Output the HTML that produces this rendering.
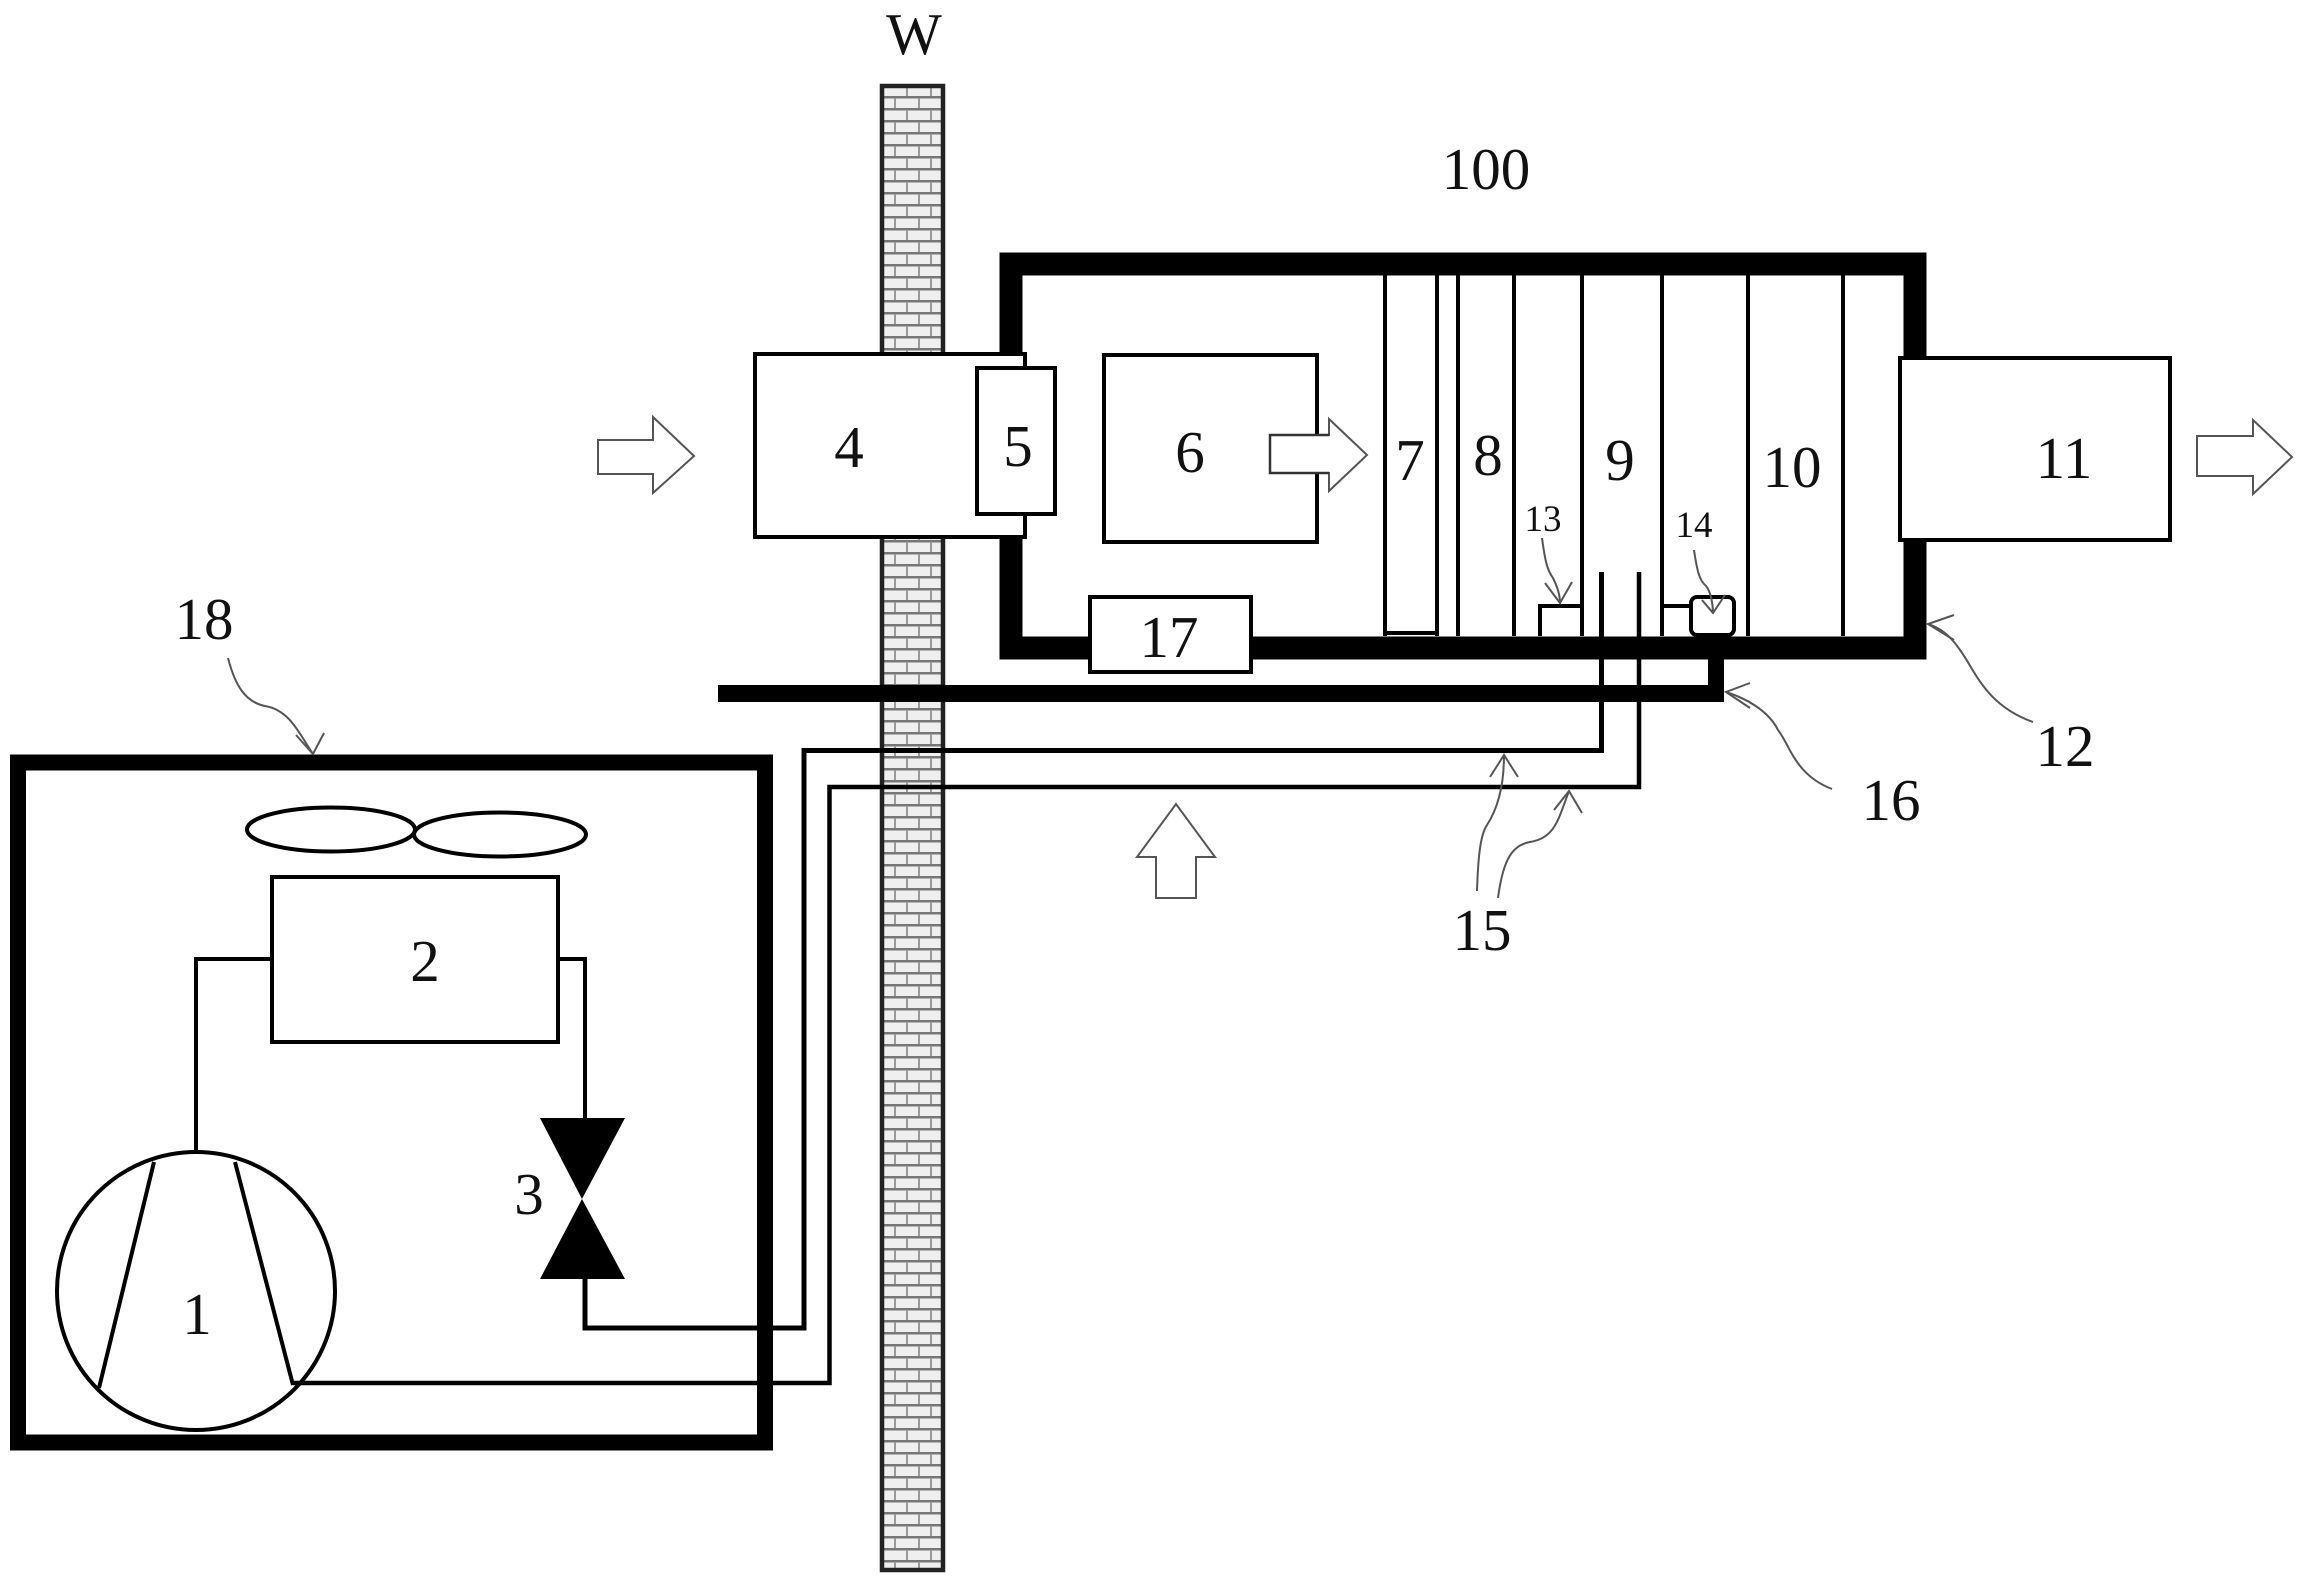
<!DOCTYPE html>
<html>
<head>
<meta charset="utf-8">
<style>
html,body{margin:0;padding:0;background:#fff;width:2300px;height:1584px;overflow:hidden}
svg{display:block}
text{font-family:"Liberation Serif",serif;fill:#111;text-anchor:middle}
</style>
</head>
<body>
<svg width="2300" height="1584" viewBox="0 0 2300 1584" xmlns="http://www.w3.org/2000/svg">
<defs>
<pattern id="brick" width="24" height="24" patternUnits="userSpaceOnUse">
<rect width="24" height="24" fill="#efefef"/>
<rect y="0" width="24" height="2.500" fill="#777"/>
<rect y="12" width="24" height="2.500" fill="#777"/>
<rect x="6" y="2" width="2" height="10" fill="#999"/>
<rect x="18" y="14" width="2" height="10" fill="#999"/>
</pattern>
</defs>
<rect width="2300" height="1584" fill="#fff"/>

<!-- wall -->
<rect x="882" y="86" width="61" height="1484" fill="url(#brick)" stroke="#222" stroke-width="4.500"/>

<!-- main box 12 -->
<rect x="1011" y="264" width="904" height="384" fill="#fff" stroke="#000" stroke-width="23"/>

<!-- internal verticals -->
<g stroke="#000" stroke-width="4" fill="none">
<path d="M1385 275V636M1437 275V636M1458 275V636M1514 275V636M1582 275V636M1662 275V636M1748 275V636M1843 275V636"/>
<path d="M1385 633H1437"/>
</g>

<!-- box 13, 14 -->
<path d="M1540 636V606H1582" fill="none" stroke="#000" stroke-width="4"/>
<path d="M1662 606H1690" fill="none" stroke="#000" stroke-width="4"/>
<rect x="1691" y="597" width="43" height="38" rx="6" fill="#fff" stroke="#000" stroke-width="4"/>

<!-- connector 16 & bar -->
<rect x="718" y="685" width="1006" height="17" fill="#000"/>
<rect x="1708" y="636" width="16" height="66" fill="#000"/>

<!-- pipes -->
<g fill="none" stroke="#000" stroke-width="4.500">
<path d="M1601.500 572V750.500H804V1328H585V1279" stroke-width="5"/>
<path d="M1639 572V787H829.500V1383H293"/>
</g>

<!-- box 4 -->
<rect x="755" y="354" width="270" height="183" fill="#fff" stroke="#000" stroke-width="4"/>
<!-- box 5 -->
<rect x="977" y="368" width="78" height="146" fill="#fff" stroke="#000" stroke-width="4"/>
<!-- box 6 -->
<rect x="1104" y="355" width="213" height="187" fill="#fff" stroke="#000" stroke-width="4"/>
<!-- box 11 -->
<rect x="1900" y="358" width="270" height="182" fill="#fff" stroke="#000" stroke-width="4"/>
<!-- box 17 -->
<rect x="1090" y="597" width="161" height="75" fill="#fff" stroke="#000" stroke-width="4"/>

<!-- block arrows -->
<g fill="#fff" stroke="#555" stroke-width="2">
<path d="M1270 435H1329V419L1367 455L1329 491V473H1270Z"/>
<path d="M598 440H653V417L694 456L653 493V474H598Z"/>
<path d="M2197 436H2253V420L2292 457L2253 494V476H2197Z"/>
<path d="M1156 898V857H1137L1176 804L1215 857H1196V898Z"/>
</g>
<path d="M1329 435H1270V473H1329" fill="none" stroke="#333" stroke-width="2.500"/>

<!-- outdoor unit 18 -->
<rect x="18" y="762.500" width="747" height="680" fill="none" stroke="#000" stroke-width="16"/>
<g fill="none" stroke="#000" stroke-width="4">
<ellipse cx="331" cy="829.500" rx="84" ry="22"/>
<ellipse cx="500" cy="834.500" rx="86" ry="22"/>
<rect x="272" y="877" width="286" height="165" fill="#fff"/>
<path d="M271 959H196V1152"/>
<path d="M558 959H585V1120"/>
<circle cx="196" cy="1291" r="139" stroke-width="4"/>
<path d="M154 1162L99 1388M235 1162L293 1385"/>
</g>
<path d="M540 1118L625 1118L582 1199L625 1279L540 1279L582 1199Z" fill="#000"/>

<!-- leaders -->
<g fill="none" stroke="#555" stroke-width="2">
<path d="M2033 722C1985 705 1975 670 1960 650C1950 635 1940 628 1928 624"/>
<path d="M1954 615L1928 624L1954 640"/>
<path d="M1832 789C1795 775 1790 745 1778 730C1768 710 1745 698 1726 692"/>
<path d="M1750 683L1726 692L1750 708"/>
<path d="M1477 891C1478 860 1480 835 1487 825C1500 805 1504 780 1504 755"/>
<path d="M1490 777L1504 755L1518 777"/>
<path d="M1498 898C1503 860 1512 845 1530 842C1555 838 1558 820 1569 791"/>
<path d="M1554 810L1569 791L1582 813"/>
<path d="M1542 538C1545 560 1547 570 1553 578C1558 588 1560 595 1560 603"/>
<path d="M1545 583L1560 603L1572 582"/>
<path d="M1694 550C1697 570 1699 580 1706 586C1711 592 1713 605 1713 613"/>
<path d="M1702 600L1713 613L1725 595"/>
<path d="M228 658C235 685 245 702 265 706C290 710 300 735 313 754"/>
<path d="M296 735L313 754L324 733"/>
</g>

<!-- labels -->
<g font-size="59">
<text x="914" y="54">W</text>
<text x="1486" y="189">100</text>
<text x="849" y="467">4</text>
<text x="1018" y="466">5</text>
<text x="1190" y="472">6</text>
<text x="1410" y="480">7</text>
<text x="1488" y="475">8</text>
<text x="1620" y="480">9</text>
<text x="1792" y="487">10</text>
<text x="2064" y="478">11</text>
<text x="1169" y="657">17</text>
<text x="2065" y="766">12</text>
<text x="1891" y="820">16</text>
<text x="1482" y="950">15</text>
<text x="204" y="639">18</text>
<text x="197" y="1334">1</text>
<text x="425" y="981">2</text>
<text x="529" y="1214">3</text>
</g>
<g font-size="37">
<text x="1543" y="531">13</text>
<text x="1694" y="537">14</text>
</g>
</svg>
</body>
</html>
